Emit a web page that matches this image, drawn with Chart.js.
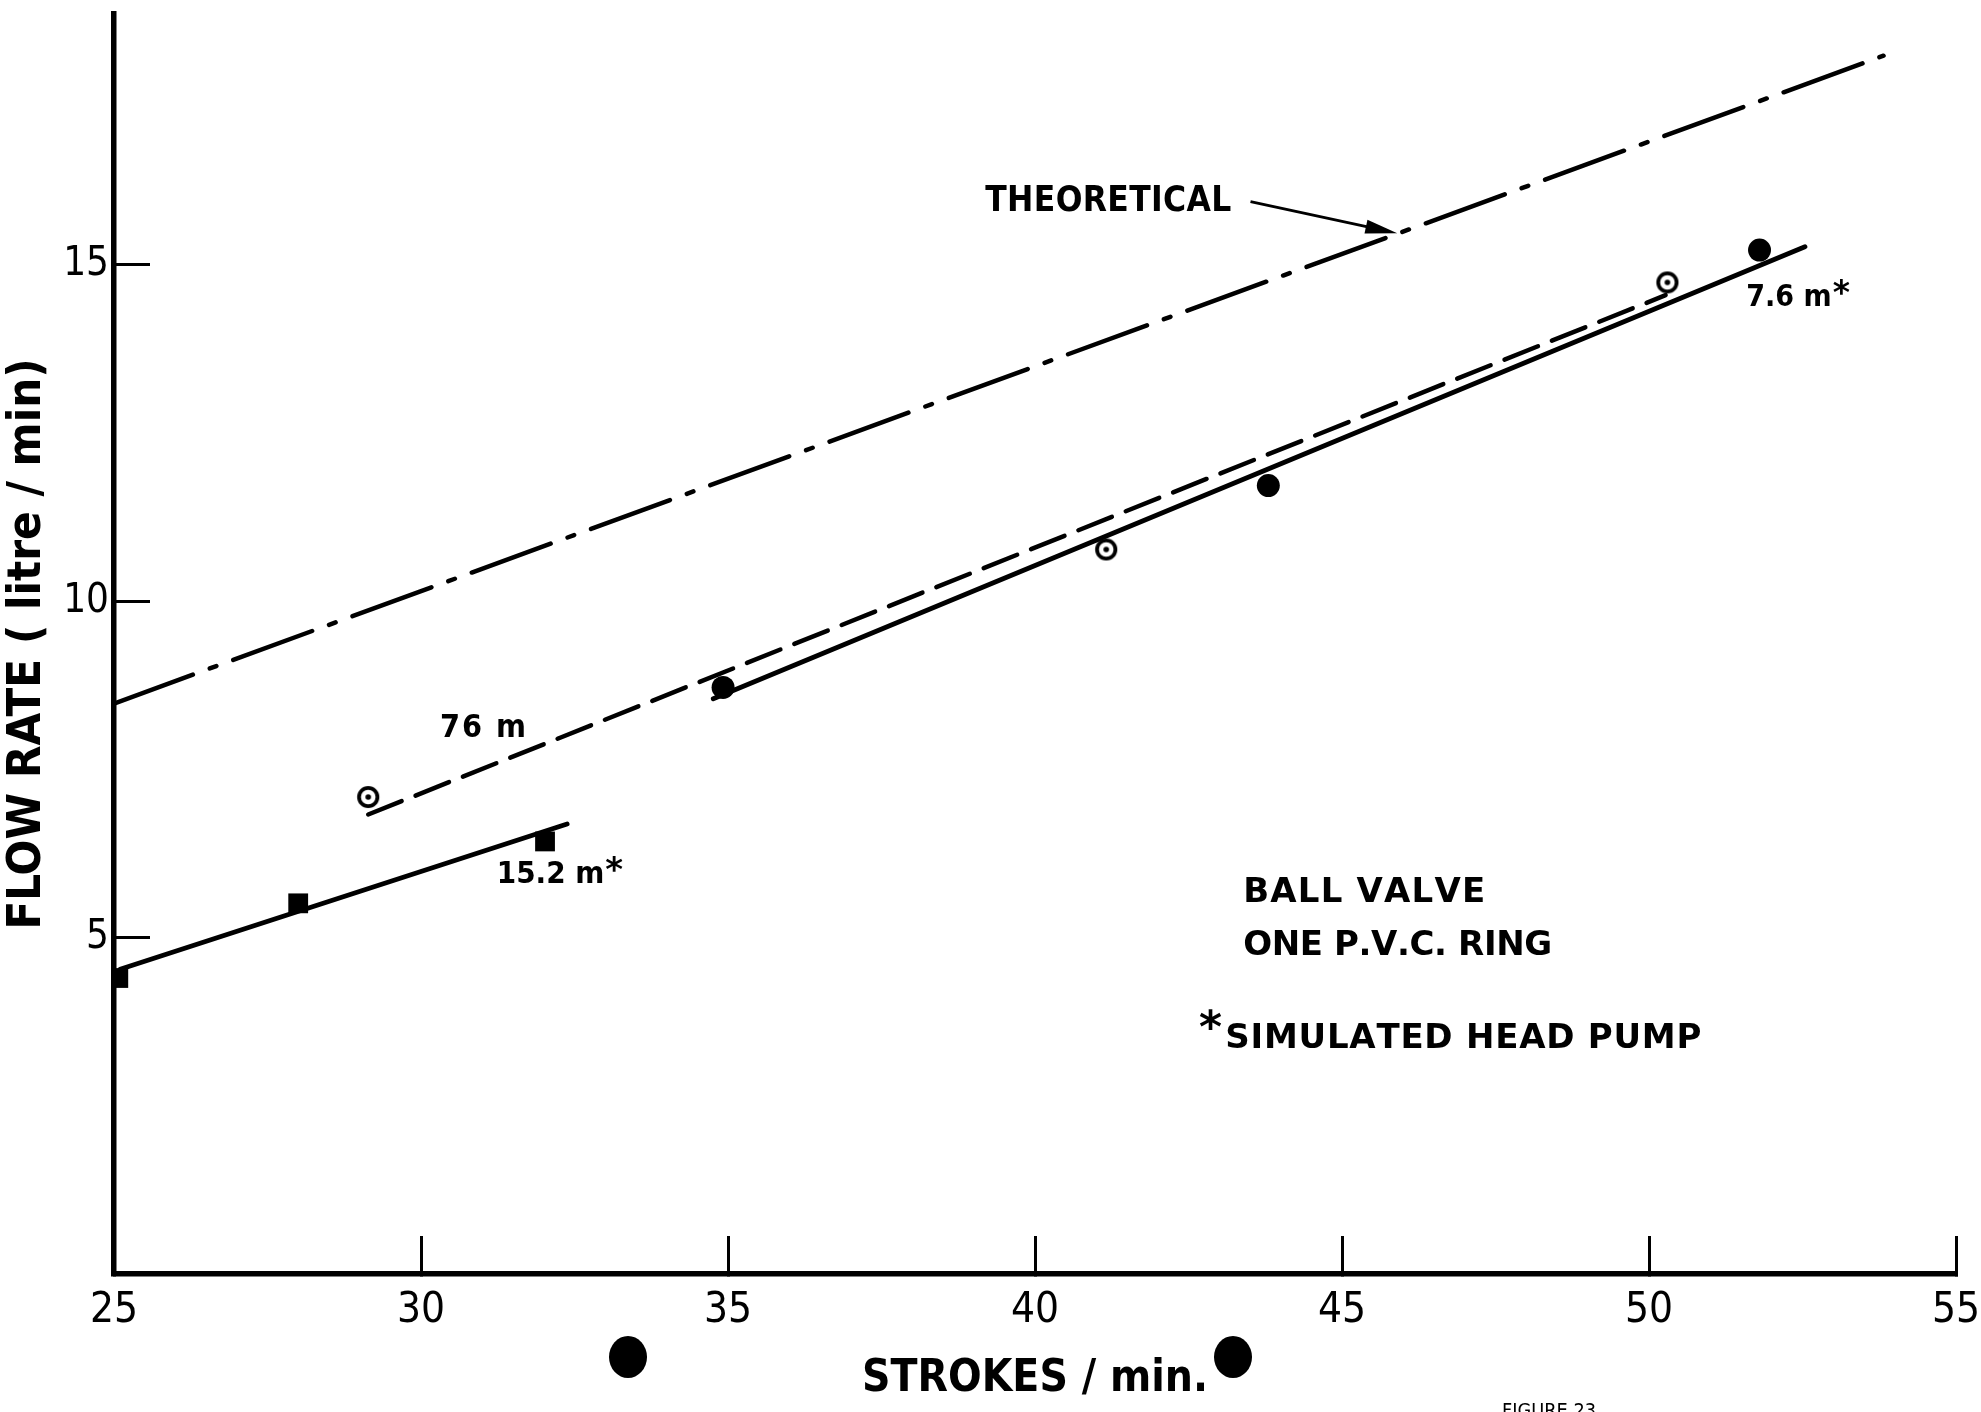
<!DOCTYPE html>
<html>
<head>
<meta charset="utf-8">
<script src="https://cdn.jsdelivr.net/npm/chart.js@4/dist/chart.umd.min.js"></script>
<style>
html,body{margin:0;padding:0;background:#fff;}
#wrap{width:1981px;height:1412px;position:relative;overflow:hidden;}
canvas{display:block;}
</style>
</head>
<body>
<div id="wrap"><canvas id="c" width="1981" height="1412"></canvas></div>
<script>
// ---------- DATA ----------
const xTicks = [25, 30, 35, 40, 45, 50, 55];
const yTicks = [5, 10, 15];

// theoretical line (dash-dot)
const theoreticalX = [25, 53.82];
const theoreticalY = [8.48, 18.11];

// fitted lines
const fit76X = [29.14, 50.27];
const fit76Y = [6.83, 14.55];
const fit7_6X = [34.76, 52.54];
const fit7_6Y = [8.55, 15.27];
const fit15_2X = [25.10, 32.38];
const fit15_2Y = [4.53, 6.69];

// measured points
const head76X = [29.14, 41.16, 50.30];     // open circles with dot
const head76Y = [7.09, 10.77, 14.74];
const head7_6X = [34.92, 43.80, 51.80];    // filled circles
const head7_6Y = [8.72, 11.72, 15.22];
const head15_2X = [25.07, 28.00, 32.02];   // filled squares
const head15_2Y = [4.40, 5.51, 6.43];

// ---------- STYLE ----------
const FONT_SANS = "'DejaVu Sans', sans-serif";
const FONT_COND = "'DejaVu Sans Condensed', 'DejaVu Sans', sans-serif";

const pts = (xs, ys) => xs.map((x, i) => ({x: x, y: ys[i]}));

function makeRing() {
  const c = document.createElement('canvas');
  c.width = 28; c.height = 28;
  const g = c.getContext('2d');
  g.strokeStyle = '#000'; g.lineWidth = 3.8;
  g.beginPath(); g.arc(14, 14, 9.2, 0, Math.PI * 2); g.stroke();
  g.fillStyle = '#000';
  g.beginPath(); g.arc(14, 14, 2.8, 0, Math.PI * 2); g.fill();
  return c;
}

// annotation texts (positions in data units)
const notes = [
  {text: 'THEORETICAL', x: 39.19, y: 15.99, align: 'left', size: 35, family: FONT_COND, width: 246},
  {text: '76 m', x: 31.01, y: 8.16, align: 'center', size: 32, family: FONT_COND, width: 86},
  {text: '15.2 m', x: 32.11, y: 5.98, align: 'center', size: 31, family: FONT_COND, star: true},
  {text: '7.6 m', x: 52.28, y: 14.55, align: 'center', size: 30, family: FONT_COND, star: true},
  {text: 'BALL VALVE', x: 43.39, y: 5.71, align: 'left', size: 34, family: FONT_SANS, width: 242},
  {text: 'ONE P.V.C. RING', x: 43.39, y: 4.93, align: 'left', size: 34, family: FONT_SANS, width: 309},
  {text: 'SIMULATED HEAD PUMP', x: 43.10, y: 3.54, align: 'left', size: 34, family: FONT_SANS, width: 476},
  {text: '*', x: 42.86, y: 3.78, align: 'center', size: 44, family: FONT_SANS, glyph: true}
];
const arrow = {x1: 43.51, y1: 15.94, x2: 45.90, y2: 15.47};

function drawSpaced(ctx, text, left, baseline, ls) {
  let x = left;
  for (const ch of text) {
    ctx.fillText(ch, x, baseline);
    x += ctx.measureText(ch).width + ls;
  }
}
function naturalWidth(ctx, text) {
  let w = 0;
  for (const ch of text) w += ctx.measureText(ch).width;
  return w;
}

const annotationPlugin = {
  id: 'annotations',
  afterDatasetsDraw(chart) {
    const ctx = chart.ctx;
    const xs = chart.scales.x, ys = chart.scales.y;
    ctx.save();
    ctx.fillStyle = '#000';
    ctx.strokeStyle = '#000';
    ctx.textAlign = 'left';
    ctx.textBaseline = 'alphabetic';
    for (const n of notes) {
      ctx.font = 'bold ' + n.size + 'px ' + n.family;
      const px = xs.getPixelForValue(n.x);
      const py = ys.getPixelForValue(n.y);
      let w = naturalWidth(ctx, n.text);
      let ls = 0;
      const count = [...n.text].length;
      if (n.width && count > 1) { ls = (n.width - w) / (count - 1); w = n.width; }
      let base;
      if (n.glyph) {
        const m = ctx.measureText(n.text);
        base = py + (m.actualBoundingBoxAscent - m.actualBoundingBoxDescent) / 2;
      } else {
        const capH = ctx.measureText('H').actualBoundingBoxAscent;
        base = py + capH / 2;
      }
      const left = n.align === 'center' ? px - w / 2 : px;
      drawSpaced(ctx, n.text, left, base, ls);
      if (n.star) {
        const capH = ctx.measureText('H').actualBoundingBoxAscent;
        ctx.font = 'bold ' + Math.round(n.size * 1.1) + 'px ' + FONT_SANS;
        const m = ctx.measureText('*');
        const cy = base - capH + 3;
        ctx.fillText('*', left + w + 1, cy + (m.actualBoundingBoxAscent - m.actualBoundingBoxDescent) / 2);
      }
    }
    // arrow for THEORETICAL
    const ax1 = xs.getPixelForValue(arrow.x1), ay1 = ys.getPixelForValue(arrow.y1);
    const ax2 = xs.getPixelForValue(arrow.x2), ay2 = ys.getPixelForValue(arrow.y2);
    const ang = Math.atan2(ay2 - ay1, ax2 - ax1);
    const hl = 32, hw = 7;
    ctx.lineWidth = 2.8;
    ctx.beginPath();
    ctx.moveTo(ax1, ay1);
    ctx.lineTo(ax2 - Math.cos(ang) * hl * 0.8, ay2 - Math.sin(ang) * hl * 0.8);
    ctx.stroke();
    ctx.beginPath();
    ctx.moveTo(ax2, ay2);
    ctx.lineTo(ax2 - Math.cos(ang) * hl - Math.sin(ang) * hw, ay2 - Math.sin(ang) * hl + Math.cos(ang) * hw);
    ctx.lineTo(ax2 - Math.cos(ang) * hl + Math.sin(ang) * hw, ay2 - Math.sin(ang) * hl - Math.cos(ang) * hw);
    ctx.closePath();
    ctx.fill();

    // scanned page details: binder holes and cut-off figure caption
    ctx.beginPath(); ctx.ellipse(628, 1357, 19, 21, 0, 0, Math.PI * 2); ctx.fill();
    ctx.beginPath(); ctx.ellipse(1233, 1357, 19, 21, 0, 0, Math.PI * 2); ctx.fill();
    ctx.font = "20px 'DejaVu Sans Condensed', 'DejaVu Sans', sans-serif";
    const capF = ctx.measureText('F').actualBoundingBoxAscent;
    ctx.fillText('FIGURE 23', 1502, 1403 + capF, 94);
    ctx.restore();
  }
};

const chart = new Chart(document.getElementById('c'), {
  type: 'scatter',
  data: {
    datasets: [
      {label: 'Theoretical', data: pts(theoreticalX, theoreticalY), showLine: true, pointRadius: 0,
       borderColor: '#000', borderWidth: 4.5, borderDash: [84, 18, 7, 18], borderCapStyle: 'round'},
      {label: '76 m fit', data: pts(fit76X, fit76Y), showLine: true, pointRadius: 0,
       borderColor: '#000', borderWidth: 4.5, borderDash: [36, 15], borderCapStyle: 'round'},
      {label: '7.6 m fit', data: pts(fit7_6X, fit7_6Y), showLine: true, pointRadius: 0,
       borderColor: '#000', borderWidth: 4.8, borderCapStyle: 'round'},
      {label: '15.2 m fit', data: pts(fit15_2X, fit15_2Y), showLine: true, pointRadius: 0,
       borderColor: '#000', borderWidth: 4.8, borderCapStyle: 'round'},
      {label: '76 m', data: pts(head76X, head76Y), showLine: false, pointStyle: makeRing(),
       pointRadius: 11},
      {label: '7.6 m*', data: pts(head7_6X, head7_6Y), showLine: false, pointStyle: 'circle',
       pointRadius: 11.5, pointBackgroundColor: '#000', pointBorderColor: '#000', pointBorderWidth: 0},
      {label: '15.2 m*', data: pts(head15_2X, head15_2Y), showLine: false, pointStyle: 'rect',
       pointRadius: 14, pointBackgroundColor: '#000', pointBorderColor: '#000', pointBorderWidth: 0}
    ]
  },
  options: {
    responsive: false,
    animation: false,
    devicePixelRatio: 1,
    events: [],
    layout: {padding: {top: 10, right: 25, bottom: 0, left: 0}},
    plugins: {legend: {display: false}, tooltip: {enabled: false}},
    scales: {
      x: {
        type: 'linear', position: 'bottom', min: 25, max: 55,
        afterBuildTicks: (s) => { s.ticks = xTicks.map(v => ({value: v})); },
        afterFit: (s) => { s.height = 138; s.paddingLeft = 0; s.paddingRight = 0; },
        grid: {display: true, drawOnChartArea: false, drawTicks: true, tickLength: -38, color: '#000', lineWidth: 3},
        border: {display: true, color: '#000', width: 5.5},
        ticks: {color: '#000', autoSkip: false, maxRotation: 0, padding: 50,
                font: {family: FONT_COND, size: 42, lineHeight: 1.2}},
        title: {display: true, text: 'STROKES / min.', color: '#000',
                font: {family: FONT_COND, size: 44, weight: 'bold', lineHeight: 1.2}, padding: {top: 0, bottom: 6}}
      },
      y: {
        type: 'linear', position: 'left', min: 0, max: 18.73,
        afterBuildTicks: (s) => { s.ticks = yTicks.map(v => ({value: v})); },
        afterFit: (s) => { s.width = 114; s.paddingTop = 0; s.paddingBottom = 0; },
        grid: {display: true, drawOnChartArea: false, drawTicks: true, tickLength: -36, color: '#000', lineWidth: 3},
        border: {display: true, color: '#000', width: 5.5},
        ticks: {color: '#000', autoSkip: false, padding: 41,
                font: {family: FONT_COND, size: 40, lineHeight: 1.2}},
        title: {display: true, text: 'FLOW RATE ( litre / min)', color: '#000',
                font: {family: FONT_COND, size: 47, weight: 'bold', lineHeight: 1.2}, padding: {top: 0, bottom: 0}}
      }
    }
  },
  plugins: [annotationPlugin]
});
</script>
</body>
</html>
